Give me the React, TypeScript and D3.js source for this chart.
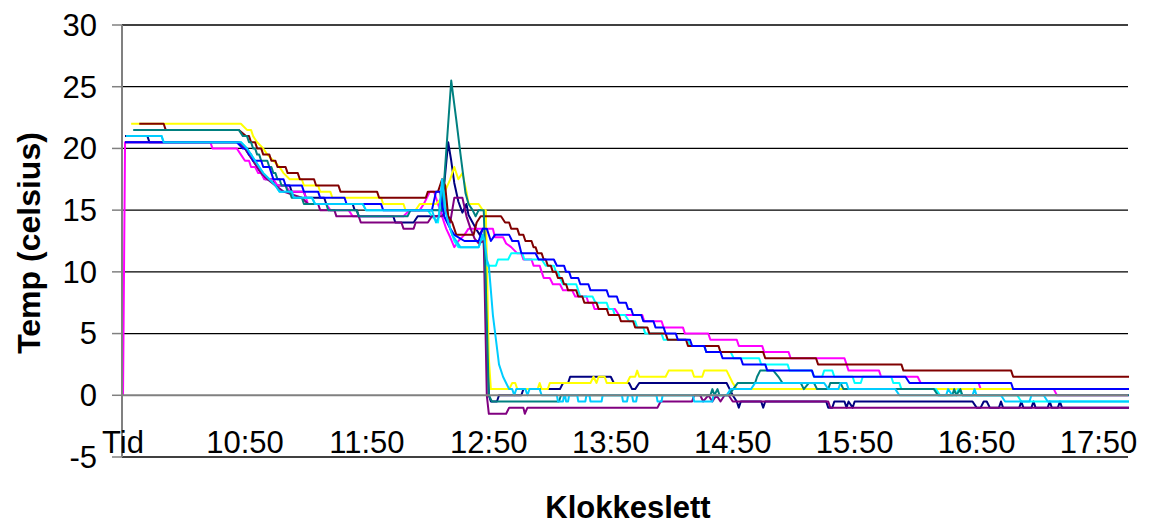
import React from "react";
import * as d3 from "d3";

// x = minutes since 9:50 (category index, "Tid" = 0), y = temperature (celsius)
const xLabels = ["Tid", "10:50", "11:50", "12:50", "13:50", "14:50", "15:50", "16:50", "17:50"];
const xLabelIdx = [0, 60, 120, 180, 240, 300, 360, 420, 480];
const yTicks = [-5, 0, 5, 10, 15, 20, 25, 30];

const navy: [number, number][] = [[1,21],[12,21],[13,20.5],[57,20.5],[60,20],[62,19.5],[64,19],[66,18.5],[68,18],[70,17.5],[74,17.5],[75,17],[82,17],[83,16.5],[89,16.5],[90,16],[99,16],[100,15.5],[113,15.5],[114,15],[115,15],[116,14.5],[133,14.5],[134,14],[143,14],[145,14.5],[155,14.5],[157,15],[158,17],[160,20.5],[161.5,19],[163,17.2],[165,15.7],[167,14.8],[169,15.5],[170,14.6],[172,14],[174,13.4],[175.5,13],[177,13.5],[178,13.5],[180,0],[181,-0.5],[184,-0.5],[185,0],[196,0],[197,0.5],[215,0.5],[216.5,1],[219,1],[220,1.5],[240,1.5],[241.5,1],[249,1],[250.5,0.5],[252,0.5],[254,1],[297,1],[298.5,0.5],[300,0],[302,-0.5],[303,-1],[304,-0.5],[314,-0.5],[315,-1],[316,-0.5],[346,-0.5],[347,-1],[349,-1],[350,-0.5],[355,-0.5],[356,-1],[357,-0.5],[359,-1],[360,-0.5],[418,-0.5],[420,-1],[422,-1],[423.5,-0.5],[425,-0.5],[426.5,-1],[431,-1],[432,-0.5],[433,-1],[441,-1],[442,-0.5],[443,-1],[447,-1],[448,-0.5],[449,-1],[455,-1],[456,-0.5],[457,-1],[460,-1],[461,-0.5],[462,-1],[495,-1]];

const magenta: [number, number][] = [[0,0],[1,20.5],[43,20.5],[44,20],[56,20],[58,19.5],[60,19],[62,19],[63,18.5],[65,18.5],[66.5,18],[68,18],[69.5,17.5],[74,17.5],[76,17],[80,17],[82,16.5],[89,16.5],[91,15.5],[100,15.5],[102,15],[111,15],[113,14.5],[138,14.5],[141,15],[146,15],[148,15.5],[151,16.5],[153,16.5],[155,15.5],[157,14.5],[159,13.5],[161,12.8],[163,12],[165,12.5],[168,13],[170,13.5],[182,13.5],[183,12.8],[187,12.8],[188.5,12.3],[191,12],[194,11.5],[196,11.5],[197,11],[201,11],[202,10.5],[205,10.5],[206,10],[207,9.5],[210,9.5],[211.5,9],[215,9],[216.5,8.5],[221,8.5],[222.5,8],[228,8],[229,7.5],[231,7.5],[232,7],[242,7],[244,6.5],[255.5,6.5],[256.5,6],[265,6],[266,5.5],[275.5,5.5],[276.5,5],[288,5],[289,4.5],[302,4.5],[303,4],[314.5,4],[315.5,3.5],[327.5,3.5],[328.5,3],[355,3],[356,2.5],[357,2],[372,2],[373,1.5],[391,1.5],[392.5,1],[421,1],[422,0.5],[458,0.5],[459.5,0],[495,0]];

const yellow: [number, number][] = [[4,22],[58,22],[61,21.5],[63,21.5],[64,21],[66,20.5],[69,20],[71,19.5],[74,19],[77,18.5],[79,18],[82,17.5],[88,17.5],[89,17],[96,17],[97,16.5],[102,16.5],[103,16],[127,16],[128,15.5],[138,15.5],[139,15],[144,15],[146,15.5],[154,15.5],[157,16],[161,17.5],[163,18.5],[165,17.5],[167,18],[169,16.5],[170,15.5],[175,15.5],[177,15],[178.5,15],[180,3],[181,0.5],[190,0.5],[191.5,1],[193,1],[194,0.5],[204,0.5],[205,1],[206,0.5],[209,0.5],[210,1],[230,1],[231.5,1.5],[233,1],[234,1.5],[237,1.5],[238,1],[248,1],[249.5,1.5],[252,1.5],[253,2],[254,1.5],[267,1.5],[268.5,2],[280,2],[281,1.5],[285,1.5],[286,2],[297,2],[300,1],[302,0.5],[495,0.5]];

const cyan: [number, number][] = [[1.5,21],[19,21],[20,20.5],[58,20.5],[61,20],[63,19.5],[65,19],[67,18.5],[69,18],[72,17.5],[75,17],[77,16.5],[83,16.5],[84,16],[93,16],[94.5,15.5],[118,15.5],[119.5,15],[150,15],[152,14.5],[155,14],[157,17],[159,15.5],[161,13.5],[163,12.5],[165,12],[175,12],[177,13],[178,11],[179.5,10.5],[183.5,10.5],[184.5,11],[189.5,11],[191,11.5],[196.5,11.5],[197.5,11],[206,11],[208,10.5],[212,10.5],[213,10],[214,10],[215,9.5],[216.5,9],[223,9],[224,8.5],[225,8],[231,8],[232.5,7.5],[238,7.5],[239,7],[241,7],[242,6.5],[247,6.5],[249,6],[252,6],[253,5.5],[256,5.5],[257,5],[265,5],[266,4.5],[278,4.5],[279,4],[286,4],[287,3.5],[299,3.5],[300.5,3],[313,3],[314,2.5],[327,2.5],[328,2],[339,2],[340,1.5],[344,1.5],[345,2],[349,2],[350,1.5],[359,1.5],[360,1],[363,1],[364,1.5],[378,1.5],[379,1],[382,1],[383,0.5],[400,0.5],[402,0],[410,0],[411,0.5],[413,0],[440,0],[442,-0.5],[495,-0.5]];

const purple: [number, number][] = [[1,20.5],[57,20.5],[60,20],[62,19.5],[64,19],[66,18.5],[68,18],[71,17.5],[75,17],[79,16.5],[88,16],[91,15.5],[96,15.5],[97,15],[104,15],[105,14.5],[116,14.5],[117,14],[137,14],[138,13.5],[143,13.5],[144,14],[150,14],[152,14.5],[157,14.5],[159,15],[161,14],[163,16],[167,16],[169,14.5],[171,13.5],[173,12.7],[175,12.3],[177.5,12.5],[179,0],[180,-1.5],[188.5,-1.5],[190,-1],[197,-1],[197.7,-1.5],[199,-1],[263,-1],[264.5,-0.5],[280,-0.5],[281,0],[284,0],[285.5,-0.5],[288,0],[290,-0.5],[292,0],[294,-0.5],[296,0],[298,0],[300,-0.5],[347,-0.5],[348,-1],[495,-1]];

const darkred: [number, number][] = [[8,22],[20,22],[21,21.5],[57,21.5],[60.5,21],[62,21],[63,20.5],[65,20.5],[66,20],[68,20],[69,19.5],[72,19.5],[73,19],[75,19],[76,18.5],[80,18.5],[81,18],[86,18],[87,17.5],[94,17.5],[95,17],[106,17],[107,16.5],[125,16.5],[126,16],[149,16],[150,16.5],[155,16.5],[157,17.5],[158.5,17],[160,14.5],[162,14],[164,13],[172.5,13],[174,14],[176,14.5],[186,14.5],[188,14],[190,14],[191,13.5],[194,13.5],[195,13],[197,13],[198,12.5],[201,12.5],[202,12],[203,12],[204,11.5],[206,11.5],[207,11],[208,11],[209,10.5],[210.5,10.5],[211.5,10],[213,10],[214,9.5],[216,9.5],[217,9],[218,9],[219,8.5],[223,8.5],[224,8],[226,8],[227,7.5],[233,7.5],[234,7],[238,7],[239,6.5],[244,6.5],[245,6],[251,6],[252,5.5],[258,5.5],[259,5],[267,5],[268,4.5],[277,4.5],[278,4],[293,4],[294,3.5],[315,3.5],[316,3],[341,3],[342,2.5],[383,2.5],[384,2],[437,2],[438,1.5],[495,1.5]];

const teal: [number, number][] = [[5,21.5],[57,21.5],[59,21],[61,21],[62,20.5],[63,20.5],[64,20],[65,20],[66,19.5],[67,19.5],[68,19],[71,19],[72,18.5],[73,18.5],[74,18],[75,18],[76,17.5],[77,17.5],[78,17],[80,17],[81,16.5],[82,16.5],[83,16],[88,16],[89,15.5],[100,15.5],[101,15],[115,15],[116,14.5],[140,14.5],[141.5,15],[157,15],[161.5,25.5],[164,22.3],[166,19.6],[168.5,16.4],[170,15.5],[172,15],[173.5,14.5],[175,15],[177.5,15],[180,0],[181.5,-0.5],[214.5,-0.5],[215.5,0],[289,0],[290,0.5],[291,0],[292.5,0.5],[293.5,0],[298,0],[302.5,1],[311,1],[312,1.5],[313.5,2],[320,2],[322.5,1.5],[324.5,1],[333.5,1],[335,0.5],[337.5,1],[340,1],[341.5,0.5],[347,0.5],[348,1],[353,1],[354.5,0.5],[399,0.5],[401,0],[408,0],[409,0.5],[410,0],[412,0.5],[413,0],[495,0]];

const blue: [number, number][] = [[1,20.5],[56,20.5],[59,20],[61,20],[62,19.5],[63,19.5],[64,19],[68,19],[69,18.5],[72,18.5],[73,18],[74,17.5],[79,17.5],[80,17],[88,17],[89,16.5],[96,16.5],[97,16],[109,16],[110,15.5],[127,15.5],[128,15],[152,15],[154,16.5],[156,16.5],[158,14.5],[159.5,14],[161,13.5],[163,13],[168,12.5],[175,12.5],[177,13.5],[179,13.5],[181,12.5],[183,13],[190,13],[191.5,12.5],[194.5,12.5],[196,11.5],[203,11.5],[204.5,11],[212,11],[213.5,10.5],[217,10.5],[218,10],[219.5,10],[220.5,9.5],[224,9.5],[225,9],[229,9],[230,8.5],[238,8.5],[239,8],[243,8],[244,7.5],[247.5,7.5],[248.5,7],[250,7],[251,6.5],[255,6.5],[256,6],[261,6],[262,5.5],[266,5.5],[267,5],[272,5],[273,4.5],[279,4.5],[280,4],[286,4],[287,3.5],[294,3.5],[295,3],[304,3],[305,2.5],[316,2.5],[317,2],[339,2],[340,1.5],[385,1.5],[387,1],[437,1],[438,0.5],[495,0.5]];

const skyblue: [number, number][] = [[1.5,21],[19,21],[20,20.5],[58,20.5],[61,20],[63,19.5],[65,19],[67,18.5],[69,18],[72,17.5],[75,17],[77,16.5],[83,16.5],[84,16],[93,16],[94.5,15.5],[118,15.5],[119.5,15],[152,15],[154,14],[155.5,14.5],[157,17.5],[158.5,15],[160,14],[162,13],[164,12.5],[166,12],[175,12],[177,13],[178,12.5],[179,11],[180,10.5],[182,6.5],[183.5,4.5],[185,2.5],[187,1.5],[188.5,1],[190,0.5],[191.5,0.5],[192.5,0],[193.5,0.5],[198,0.5],[199,0],[200,0.5],[205,0.5],[206,0],[213.5,0],[214,-0.5],[216.5,-0.5],[217,0],[217.5,0],[218,-0.5],[219,-0.5],[219.5,0],[223.5,0],[224,-0.5],[227.5,-0.5],[228,0],[229.5,0],[230,-0.5],[235.5,-0.5],[236,0],[245.5,0],[246,-0.5],[248,-0.5],[248.5,0],[250.5,0],[251,-0.5],[252.5,-0.5],[253,0],[262.5,0],[263,-0.5],[265,-0.5],[265.5,0],[280.5,0],[281,-0.5],[290,-0.5],[290.5,0],[297,0],[299,0.5],[309,0.5],[311,1],[345,1],[347,0.5],[352,0.5],[353,1],[356,1],[357,0.5],[380,0.5],[382,0],[405,0],[406,0.5],[408,0],[418,0],[419,0.5],[420,0],[432,0],[434,-0.5],[446,-0.5],[447,0],[453,0],[455,-0.5],[495,-0.5]];

const seriesData = [navy, magenta, yellow, cyan, purple, darkred, teal, blue, skyblue];
const seriesColors = ["#000080", "#FF00FF", "#FFFF00", "#00FFFF", "#800080", "#800000", "#008080", "#0000FF", "#00CCFF"];

const W = 1151;
const H = 525;
const FONT = "'Liberation Sans', Arial, sans-serif";

export default function App() {
  const x = d3.scaleLinear().domain([-0.5, 494.5]).range([122, 1128]);
  const y = d3.scaleLinear().domain([-5, 30]).range([457, 25]);
  const line = d3
    .line<[number, number]>()
    .x((d) => x(d[0]))
    .y((d) => y(d[1]));
  const [x0, x1] = x.range();

  return (
    <div style={{ position: "absolute", left: 0, top: 0 }}>
      <svg width={W} height={H} style={{ display: "block", background: "#fff" }}>
        {yTicks.map((t) =>
          t === 0 ? null : (
            <line key={"g" + t} x1={x0} x2={x1} y1={y(t)} y2={y(t)} stroke="#000" strokeWidth={1.3} />
          )
        )}
        {yTicks.map((t) => (
          <line key={"tk" + t} x1={x0 - 10} x2={x0} y1={y(t)} y2={y(t)} stroke="#808080" strokeWidth={1.5} />
        ))}
        {seriesData.map((s, i) => (
          <path key={"s" + i} d={line(s) || ""} fill="none" stroke={seriesColors[i]} strokeWidth={2} strokeLinejoin="round" />
        ))}
        <line x1={x0} x2={x1} y1={y(0)} y2={y(0)} stroke="#808080" strokeWidth={2} />
        <line x1={x0} x2={x0} y1={y(30)} y2={y(-5)} stroke="#808080" strokeWidth={2} />
        {yTicks.map((t) => (
          <text key={"yl" + t} x={97} y={y(t)} dy="0.35em" textAnchor="end" fontFamily={FONT} fontSize={31} fill="#000">
            {t}
          </text>
        ))}
        {xLabels.map((l, i) => (
          <text key={"xl" + i} x={x(xLabelIdx[i])} y={453} textAnchor="middle" fontFamily={FONT} fontSize={31} fill="#000">
            {l}
          </text>
        ))}
        <text x={628} y={518} textAnchor="middle" fontFamily={FONT} fontSize={31} fontWeight="bold" fill="#000">
          Klokkeslett
        </text>
        <text
          transform="translate(40,243) rotate(-90)"
          textAnchor="middle"
          fontFamily={FONT}
          fontSize={32}
          fontWeight="bold"
          fill="#000"
        >
          Temp (celsius)
        </text>
      </svg>
    </div>
  );
}
